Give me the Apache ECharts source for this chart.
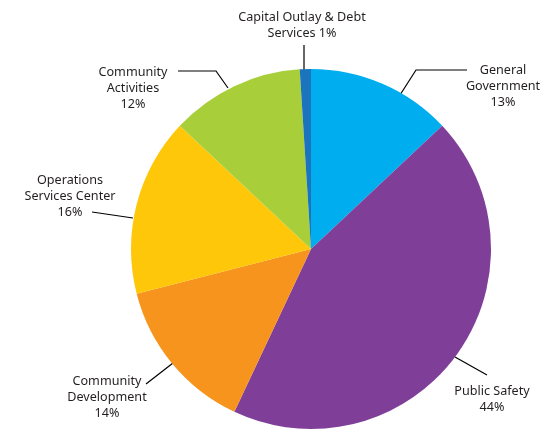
<!DOCTYPE html>
<html>
<head>
<meta charset="utf-8">
<script src="https://cdn.jsdelivr.net/npm/echarts@6/dist/echarts.min.js"></script>
<style>html,body{margin:0;padding:0;background:#fff}#c{width:557px;height:430px}</style>
</head>
<body>
<div id="c"></div>
<script>
const categories = ["General\nGovernment", "Public Safety", "Community\nDevelopment", "Operations\nServices Center", "Community\nActivities", "Capital Outlay & Debt\nServices"];
const values = [13, 44, 14, 16, 12, 1];
const colors = ["#00AEEF", "#7F3F98", "#F7941D", "#FFC709", "#A8CF3A", "#1C75BC"];

// label anchor (center of text block) and leader line points, per slice
const labelPos = [
  { x: 503, y: 86, line: [[400, 95], [416, 70], [467, 70]] },
  { x: 492, y: 399, line: [[455, 357], [487, 375], [487, 375]] },
  { x: 107, y: 397, line: [[173, 363], [146, 384], [146, 384]] },
  { x: 70, y: 196, line: [[133, 218], [92, 212], [92, 212]] },
  { x: 133, y: 88, line: [[228, 88], [216, 71], [178, 71]] },
  { x: 302, y: 25, line: [[304, 70], [304, 45], [304, 45]] }
];

const chart = echarts.init(document.getElementById('c'));
chart.setOption({
  animation: false,
  series: [{
    type: 'pie',
    center: [311, 249],
    radius: 180,
    startAngle: 90,
    clockwise: true,
    data: categories.map((n, i) => ({ name: n, value: values[i], itemStyle: { color: colors[i] } })),
    itemStyle: { borderWidth: 0 },
    label: {
      show: true,
      fontFamily: 'Noto Sans',
      fontSize: 12.6,
      lineHeight: 16,
      color: '#231F20',
      align: 'center',
      overflow: 'none',
      formatter: p => p.dataIndex === 5 ? p.name + ' ' + p.value + '%' : p.name + '\n' + p.value + '%'
    },
    labelLine: { show: true, lineStyle: { color: '#000', width: 1.2 } },
    labelLayout: p => {
      const s = labelPos[p.dataIndex];
      return { x: s.x, y: s.y, align: 'center', verticalAlign: 'middle', labelLinePoints: s.line };
    },
    emphasis: { disabled: true }
  }]
});
</script>
</body>
</html>
